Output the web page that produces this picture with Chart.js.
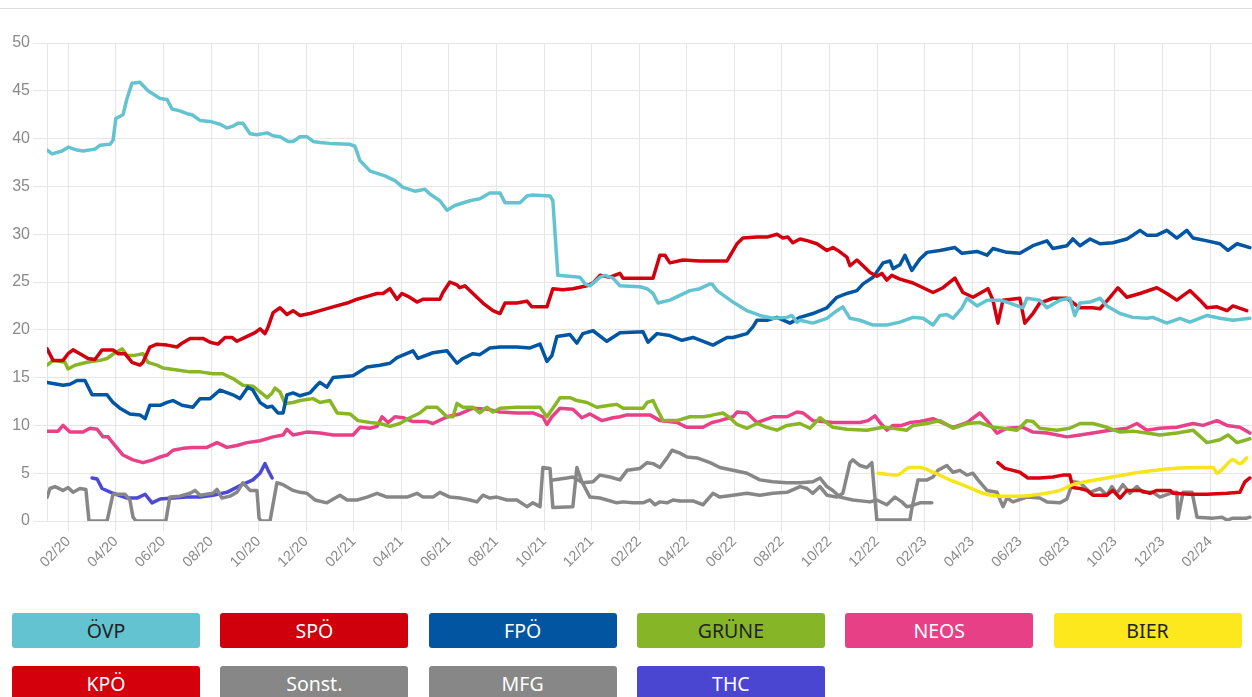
<!DOCTYPE html>
<html><head><meta charset="utf-8">
<script src="https://cdn.jsdelivr.net/npm/chart.js@4.4.1/dist/chart.umd.min.js"></script>
<style>
html,body{margin:0;padding:0;background:#fff;width:1252px;height:697px;overflow:hidden;font-family:"Noto Sans","Open Sans",sans-serif;}
#topline{position:absolute;left:0;top:8px;width:1252px;height:0;border-top:1px solid #dedede;}
#wrap{position:absolute;left:0;top:0;width:1252px;height:600px;}
#legend{position:absolute;left:0;top:0;width:1252px;height:697px;pointer-events:none;}
.item{position:absolute;width:188px;height:35px;border-radius:3px;text-align:center;line-height:35px;font-size:19.5px;}
</style></head><body>
<div id="topline"></div>
<div id="wrap"><canvas id="c" width="1252" height="600"></canvas></div>
<div id="legend"></div>
<script>
// x = months since 2020-01-01 (1 = Feb 2020), y = percent
const tickMonths = [1,3,5,7,9,11,13,15,17,19,21,23,25,27,29,31,33,35,37,39,41,43,45,47,49];
const tickLabels = ["02/20","04/20","06/20","08/20","10/20","12/20","02/21","04/21","06/21","08/21","10/21","12/21","02/22","04/22","06/22","08/22","10/22","12/22","02/23","04/23","06/23","08/23","10/23","12/23","02/24"];

const ovp = [[0.11,38.8],[0.32,38.4],[0.74,38.7],[0.99,39.1],[1.37,38.8],[1.62,38.7],[2.12,38.9],[2.33,39.3],[2.75,39.4],[2.88,39.8],[3.00,42.1],[3.30,42.5],[3.47,44.2],[3.68,45.8],[4.01,45.9],[4.35,45.0],[4.86,44.2],[5.15,44.1],[5.36,43.1],[5.69,42.9],[5.99,42.6],[6.20,42.5],[6.54,41.9],[6.96,41.8],[7.38,41.5],[7.67,41.1],[7.92,41.3],[8.13,41.6],[8.34,41.6],[8.64,40.5],[8.93,40.4],[9.36,40.6],[9.61,40.3],[9.90,40.2],[10.24,39.7],[10.45,39.7],[10.74,40.2],[11.03,40.2],[11.29,39.7],[11.58,39.6],[12.0,39.5],[12.84,39.4],[13.05,39.2],[13.26,37.7],[13.69,36.6],[14.31,36.1],[14.73,35.6],[15.07,34.9],[15.57,34.5],[15.99,34.7],[16.20,34.2],[16.62,33.5],[16.92,32.5],[17.25,33.0],[17.88,33.5],[18.30,33.7],[18.72,34.3],[19.15,34.3],[19.36,33.3],[19.99,33.3],[20.28,34.0],[20.53,34.1],[21.25,34.0],[21.37,33.5],[21.58,25.7],[22.51,25.5],[22.72,24.8],[22.93,24.6],[23.35,25.5],[23.56,25.7],[23.90,25.4],[24.19,24.6],[25.03,24.5],[25.33,24.3],[25.58,23.8],[25.79,22.8],[26.29,23.1],[26.71,23.6],[27.13,24.1],[27.55,24.3],[27.98,24.8],[28.06,24.8],[28.27,24.1],[28.94,22.9],[29.53,22.0],[30.07,21.5],[30.62,21.2],[31.21,21.3],[31.42,21.5],[31.63,20.8],[31.76,21.0],[32.30,20.7],[32.89,21.2],[33.31,22.0],[33.56,22.4],[33.86,21.2],[34.28,21.0],[34.83,20.5],[35.41,20.5],[35.96,20.8],[36.51,21.3],[36.93,21.2],[37.35,20.5],[37.64,21.5],[37.93,21.6],[38.19,21.2],[38.57,22.3],[38.78,23.3],[39.20,22.5],[39.62,23.1],[40.16,23.1],[40.58,22.8],[41.13,22.3],[41.30,23.3],[41.84,23.1],[42.14,22.3],[42.68,23.1],[43.10,23.3],[43.31,21.5],[43.53,22.8],[43.95,22.9],[44.37,23.3],[44.66,22.5],[45.21,21.7],[45.75,21.3],[46.34,21.2],[46.59,21.3],[47.18,20.7],[47.73,21.2],[48.15,20.8],[48.87,21.5],[49.41,21.2],[49.96,21.0],[50.67,21.2]];

const spo = [[0.11,18.0],[0.36,16.8],[0.78,16.8],[0.99,17.5],[1.20,17.9],[1.49,17.5],[1.83,17.0],[2.12,16.9],[2.42,17.9],[2.88,17.9],[3.09,17.5],[3.38,17.5],[3.68,16.6],[4.01,16.3],[4.14,16.6],[4.43,18.2],[4.73,18.5],[5.15,18.4],[5.57,18.2],[5.78,18.6],[6.12,19.1],[6.66,19.1],[6.96,18.7],[7.29,18.5],[7.59,19.2],[7.88,19.2],[8.09,18.8],[8.43,19.2],[8.85,19.7],[9.06,20.1],[9.27,19.6],[9.40,20.3],[9.61,21.8],[9.90,22.3],[10.19,21.6],[10.45,22.0],[10.74,21.5],[11.16,21.7],[11.58,22.0],[12.13,22.4],[12.72,22.8],[13.14,23.2],[13.56,23.5],[13.98,23.8],[14.23,23.8],[14.52,24.3],[14.82,23.2],[15.03,23.8],[15.28,23.5],[15.66,22.9],[15.91,23.2],[16.62,23.2],[16.75,23.9],[17.04,25.0],[17.34,24.7],[17.46,24.4],[17.67,24.6],[18.01,23.8],[18.43,22.8],[18.85,22.0],[19.15,21.7],[19.36,22.8],[19.86,22.8],[20.28,23.0],[20.49,22.4],[21.12,22.4],[21.37,24.3],[21.79,24.2],[22.21,24.3],[22.80,24.6],[23.06,24.9],[23.35,25.7],[23.77,25.5],[24.19,25.9],[24.32,25.4],[25.58,25.4],[25.87,27.8],[26.08,27.8],[26.29,27.0],[26.84,27.3],[27.55,27.2],[28.69,27.2],[29.11,29.0],[29.36,29.6],[29.95,29.7],[30.37,29.7],[30.79,30.0],[31.04,29.6],[31.25,29.7],[31.46,29.1],[31.76,29.5],[32.09,29.3],[32.47,29.0],[32.89,28.3],[33.14,28.6],[33.35,28.3],[33.73,27.6],[33.86,26.7],[34.15,27.3],[34.41,26.7],[34.70,26.0],[34.99,25.6],[35.20,25.9],[35.41,25.2],[35.62,25.7],[35.96,25.3],[36.51,24.9],[36.93,24.4],[37.35,23.9],[37.77,24.4],[38.27,25.4],[38.61,23.9],[39.03,23.4],[39.66,24.3],[39.87,23.1],[40.08,20.7],[40.29,23.1],[41.00,23.3],[41.21,20.7],[41.55,21.7],[41.84,22.8],[42.39,23.3],[42.98,23.3],[43.53,22.3],[44.07,22.3],[44.37,22.2],[44.79,23.4],[45.12,24.4],[45.50,23.4],[46.05,23.8],[46.76,24.4],[47.18,23.8],[47.60,23.1],[48.15,24.1],[48.57,23.1],[48.87,22.3],[49.29,22.4],[49.71,22.0],[49.96,22.5],[50.54,22.0]];

const fpo = [[0.11,14.5],[0.78,14.2],[1.07,14.3],[1.37,14.7],[1.70,14.7],[2.00,13.2],[2.63,13.2],[2.88,12.4],[3.17,11.8],[3.59,11.2],[4.01,11.1],[4.23,10.7],[4.43,12.1],[4.86,12.1],[5.15,12.4],[5.40,12.6],[5.78,12.1],[6.24,11.9],[6.54,12.8],[6.96,12.8],[7.38,13.7],[7.92,13.2],[8.22,12.8],[8.55,14.0],[8.76,13.7],[9.06,12.4],[9.36,11.9],[9.57,12.0],[9.81,11.3],[10.03,11.3],[10.19,13.2],[10.45,13.4],[10.74,13.1],[11.16,13.4],[11.45,14.2],[11.58,14.5],[11.87,14.0],[12.13,15.0],[12.97,15.2],[13.56,16.1],[14.10,16.3],[14.52,16.5],[14.82,17.1],[15.49,17.8],[15.70,17.0],[16.33,17.6],[16.92,17.8],[17.34,16.5],[17.59,17.0],[18.01,17.5],[18.30,17.4],[18.72,18.1],[19.15,18.2],[19.86,18.2],[20.41,18.1],[20.83,18.5],[21.12,16.7],[21.33,17.3],[21.54,19.3],[22.09,19.5],[22.38,18.6],[22.63,19.6],[23.06,19.9],[23.64,18.8],[24.19,19.7],[25.16,19.8],[25.37,18.7],[25.75,19.6],[26.29,19.4],[26.80,18.9],[27.26,19.2],[28.10,18.4],[28.69,19.2],[28.94,19.2],[29.53,19.6],[29.78,20.3],[29.95,21.0],[30.37,21.0],[30.79,21.3],[31.34,20.7],[31.76,21.3],[32.30,21.7],[32.89,22.3],[33.31,23.4],[33.73,23.8],[34.15,24.1],[34.41,24.8],[34.83,25.5],[35.25,27.0],[35.54,27.2],[35.67,26.4],[35.96,26.8],[36.17,27.8],[36.46,26.2],[36.80,27.4],[37.10,28.1],[37.64,28.3],[38.27,28.6],[38.57,28.0],[39.20,28.2],[39.62,27.8],[39.87,28.5],[40.46,28.1],[41.00,28.0],[41.55,28.8],[42.14,29.3],[42.39,28.5],[42.98,28.8],[43.23,29.5],[43.53,28.8],[43.95,29.5],[44.37,29.0],[44.91,29.1],[45.50,29.5],[45.75,29.9],[46.05,30.4],[46.34,29.9],[46.76,29.9],[47.18,30.4],[47.60,29.6],[48.02,30.4],[48.28,29.6],[48.87,29.3],[49.41,29.0],[49.75,28.3],[50.13,29.0],[50.67,28.6]];

const grune = [[0.11,16.3],[0.36,16.8],[0.86,16.6],[0.99,15.9],[1.28,16.3],[1.79,16.6],[2.33,16.8],[2.63,17.0],[2.96,17.6],[3.26,18.0],[3.47,17.3],[3.72,17.3],[4.14,17.5],[4.35,16.6],[4.73,16.3],[4.98,16.0],[5.57,15.8],[6.12,15.6],[6.54,15.6],[7.08,15.4],[7.50,15.4],[7.92,14.9],[8.34,14.2],[8.76,14.1],[9.06,13.5],[9.36,12.9],[9.57,13.4],[9.69,13.9],[9.90,13.5],[10.11,12.3],[10.45,12.4],[10.74,12.6],[11.29,12.8],[11.58,12.4],[12.00,12.6],[12.30,11.3],[12.84,11.2],[13.18,10.5],[13.69,10.3],[14.10,10.2],[14.52,9.9],[14.94,10.2],[15.36,10.8],[15.78,11.3],[16.08,11.9],[16.50,11.9],[16.92,10.9],[17.17,10.9],[17.34,12.3],[17.59,11.9],[18.01,11.9],[18.30,11.3],[18.60,11.9],[18.85,11.4],[19.15,11.8],[19.86,11.9],[20.83,11.9],[21.12,10.9],[21.37,11.8],[21.67,12.9],[22.09,12.9],[22.38,12.6],[22.80,12.4],[23.22,11.9],[23.77,12.1],[24.06,12.2],[24.32,11.8],[25.16,11.8],[25.33,12.4],[25.58,12.6],[25.75,11.7],[26.00,10.5],[26.59,10.5],[27.13,10.9],[27.68,10.9],[27.98,11.0],[28.10,11.1],[28.52,11.3],[28.81,10.8],[29.11,10.1],[29.53,9.7],[29.95,10.2],[30.37,9.8],[30.79,9.5],[31.21,10.0],[31.76,10.2],[32.18,9.7],[32.60,10.8],[33.14,9.8],[33.73,9.6],[34.57,9.5],[35.25,9.8],[35.67,9.7],[36.25,9.5],[36.51,10.0],[37.10,10.2],[37.64,10.5],[38.19,9.7],[38.78,10.2],[39.32,10.3],[39.87,9.8],[40.29,9.7],[40.88,9.5],[41.30,10.5],[41.55,10.4],[41.84,9.7],[42.56,9.5],[43.10,9.7],[43.53,10.2],[44.07,10.2],[44.66,9.8],[45.21,9.3],[45.75,9.4],[46.34,9.2],[46.89,9.0],[47.60,9.2],[48.28,9.5],[48.87,8.2],[49.41,8.5],[49.75,9.0],[50.13,8.2],[50.67,8.6]];

const neos = [[0.11,9.4],[0.57,9.4],[0.78,10.0],[1.07,9.3],[1.62,9.3],[1.91,9.7],[2.21,9.6],[2.46,8.8],[2.67,8.8],[2.96,7.9],[3.30,6.9],[3.72,6.4],[4.14,6.1],[4.56,6.4],[4.86,6.7],[5.15,6.9],[5.40,7.4],[5.82,7.6],[6.24,7.7],[6.83,7.7],[7.25,8.2],[7.67,7.7],[8.09,7.9],[8.51,8.2],[9.06,8.4],[9.61,8.8],[10.03,9.0],[10.19,9.6],[10.45,9.0],[11.03,9.3],[11.58,9.2],[12.13,9.0],[12.97,9.0],[13.26,9.8],[13.69,9.7],[13.98,9.9],[14.19,10.9],[14.44,10.3],[14.73,10.9],[15.07,10.8],[15.49,10.4],[16.08,10.4],[16.33,10.2],[16.92,10.9],[17.46,11.2],[18.01,11.8],[18.60,11.7],[19.15,11.4],[19.86,11.3],[20.53,11.3],[20.95,10.9],[21.12,10.1],[21.33,10.9],[21.67,11.8],[22.21,11.7],[22.59,10.8],[22.93,11.2],[23.43,10.5],[23.90,10.8],[24.19,10.9],[24.49,11.1],[25.45,11.1],[25.87,10.5],[26.59,10.3],[27.01,9.8],[27.68,9.8],[28.06,10.3],[28.39,10.5],[28.94,10.9],[29.11,11.4],[29.53,11.3],[29.95,10.3],[30.62,10.9],[31.21,10.9],[31.63,11.4],[31.88,11.3],[32.30,10.5],[33.14,10.3],[34.28,10.3],[34.62,10.5],[34.91,11.0],[35.12,10.3],[35.41,9.5],[35.67,10.0],[36.04,10.0],[36.38,10.3],[36.80,10.4],[37.35,10.7],[38.19,9.8],[38.78,10.3],[39.32,11.3],[39.62,10.5],[40.04,9.2],[40.46,9.7],[41.13,9.8],[41.55,9.3],[42.14,9.2],[42.98,8.8],[43.53,9.0],[44.07,9.2],[44.79,9.5],[45.50,9.7],[45.92,10.2],[46.34,9.5],[46.89,9.7],[47.60,9.8],[48.28,10.2],[48.70,10.0],[49.29,10.5],[49.71,10.0],[50.25,9.8],[50.67,9.2]];

const bier = [[35.04,5.0],[35.83,4.8],[36.38,5.6],[36.80,5.6],[37.35,5.1],[38.06,4.3],[38.78,3.6],[39.45,2.9],[40.16,2.6],[41.00,2.6],[41.84,2.8],[42.68,3.2],[43.23,3.8],[44.66,4.5],[46.05,5.1],[47.44,5.5],[48.87,5.6],[49.12,5.6],[49.29,5.0],[49.54,5.5],[49.96,6.4],[50.25,6.0],[50.54,6.6]];

const kpo = [[40.08,6.1],[40.37,5.5],[40.71,5.3],[41.00,5.1],[41.34,4.5],[41.84,4.5],[42.39,4.6],[42.81,4.8],[43.10,4.8],[43.23,3.5],[43.53,3.4],[43.82,3.2],[44.07,2.7],[44.66,2.7],[44.91,3.2],[45.21,2.4],[45.50,3.2],[46.05,3.2],[46.47,2.9],[46.76,3.2],[47.31,3.2],[47.44,2.9],[48.15,2.8],[48.87,2.8],[49.71,2.9],[50.25,3.0],[50.46,4.1],[50.67,4.5]];

const sonst = [[0.11,2.5],[0.23,3.4],[0.44,3.6],[0.78,3.2],[0.99,3.5],[1.20,3.0],[1.49,3.4],[1.74,3.3],[1.87,0],[2.63,0],[2.88,2.8],[3.38,2.8],[3.59,2.2],[3.72,0.4],[3.85,0],[5.10,0],[5.27,2.5],[5.69,2.6],[6.12,2.9],[6.33,3.2],[6.54,2.7],[7.08,2.9],[7.25,3.3],[7.46,2.4],[7.80,2.6],[8.09,3.0],[8.34,4.0],[8.64,3.2],[8.93,3.2],[9.02,0.3],[9.10,0],[9.48,0],[9.77,4.0],[10.03,3.8],[10.45,3.2],[10.74,3.0],[11.03,2.9],[11.37,2.2],[11.87,1.9],[12.42,2.7],[12.72,2.2],[13.14,2.2],[13.56,2.5],[13.98,2.9],[14.40,2.5],[15.24,2.5],[15.66,2.9],[15.91,2.5],[16.33,2.5],[16.62,3.0],[17.04,2.5],[17.46,2.4],[17.88,2.2],[18.18,2.0],[18.43,2.7],[18.72,2.4],[19.02,2.5],[19.44,2.2],[19.86,2.2],[20.28,1.5],[20.53,1.9],[20.83,1.5],[20.95,5.6],[21.25,5.5],[21.37,1.4],[22.21,1.5],[22.38,5.6],[22.59,4.1],[22.93,2.5],[23.35,2.4],[24.06,1.9],[24.32,2.0],[24.74,1.9],[25.16,1.9],[25.45,2.2],[25.66,1.7],[25.87,2.0],[26.17,1.9],[26.42,2.2],[26.71,2.1],[27.26,2.1],[27.68,1.7],[28.10,2.9],[28.39,2.5],[28.94,2.7],[29.53,2.9],[30.07,2.7],[30.62,2.9],[31.21,3.0],[31.76,3.6],[32.05,3.4],[32.30,2.9],[32.60,3.6],[32.89,2.7],[33.31,2.5],[33.56,2.9],[33.86,6.1],[33.98,6.4],[34.28,5.8],[34.57,5.6],[34.78,6.1],[34.99,0.1],[36.38,0.1],[36.46,1.3],[36.72,4.3],[37.10,4.3],[37.35,4.6],[37.56,5.3],[37.93,5.8],[38.19,5.1],[38.48,5.3],[38.78,4.8],[39.03,5.0],[39.24,4.3],[39.62,3.2],[40.04,3.0],[40.29,1.5],[40.46,2.4],[40.71,2.0],[41.30,2.5],[41.84,2.4],[42.14,2.0],[42.68,1.9],[42.98,2.3],[43.23,4.1],[43.53,4.0],[43.95,3.0],[44.37,3.4],[44.66,2.7],[44.87,3.6],[45.08,2.9],[45.33,3.8],[45.63,2.9],[45.92,3.6],[46.17,3.0],[46.59,3.0],[46.89,2.5],[47.44,3.0],[47.60,3.0],[47.65,0.3],[47.86,3.0],[48.24,3.0],[48.45,0.4],[49.12,0.3],[49.50,0.4],[49.71,0.1],[49.96,0.3],[50.54,0.3],[50.67,0.4]];

const mfg = [[21.37,4.3],[21.96,4.5],[22.21,4.6],[22.63,4.0],[23.06,4.1],[23.35,4.8],[23.77,4.6],[24.19,4.3],[24.49,5.3],[25.03,5.5],[25.33,6.1],[25.58,6.0],[25.87,5.6],[26.17,6.6],[26.38,7.4],[26.71,7.1],[27.01,6.7],[27.43,6.6],[27.98,6.1],[28.39,5.6],[28.94,5.3],[29.53,5.0],[30.07,4.3],[30.62,4.1],[31.21,4.0],[31.76,4.0],[32.30,4.1],[32.60,4.5],[32.89,3.6],[33.14,3.2],[33.44,2.5],[33.98,2.2],[34.70,2.0],[34.99,2.2],[35.41,1.7],[35.75,2.5],[36.04,2.0],[36.25,1.5],[36.46,1.6],[36.80,1.9],[37.30,1.9]];

const thc = [[2.00,4.5],[2.21,4.4],[2.42,3.4],[2.88,2.9],[3.47,2.4],[3.89,2.4],[4.23,2.8],[4.52,1.9],[4.86,2.3],[5.40,2.4],[5.99,2.5],[6.54,2.5],[7.08,2.7],[7.67,3.0],[8.22,3.7],[8.76,4.3],[9.06,5.0],[9.27,6.0],[9.40,5.3],[9.57,4.5]];

const parties = ["ÖVP","SPÖ","FPÖ","GRÜNE","NEOS","BIER","KPÖ","Sonst.","MFG","THC"];
const series = [ovp, spo, fpo, grune, neos, bier, kpo, sonst, mfg, thc];
const lineColors = ["#63c3d0","#d2000f","#0056a2","#88b626","#e84188","#f7e51a","#d8000d","#878787","#878787","#4e48d6"];
const boxColors  = ["#63c3d0","#cf000c","#0256a1","#86b527","#e84087","#fce81c","#d4000c","#878787","#878787","#4b46d2"];
const textColors = ["#222","#fff","#fff","#222","#fff","#222","#fff","#fff","#fff","#fff"];

const datasets = parties.map((p, i) => ({
  label: p,
  data: series[i].map(d => ({x: d[0], y: d[1]})),
  borderColor: lineColors[i],
  backgroundColor: lineColors[i],
  borderWidth: 3.5,
  pointRadius: 0,
  fill: false,
  tension: 0,
  cubicInterpolationMode: p === "BIER" ? "monotone" : "default",
  borderJoinStyle: "round",
  borderCapStyle: "round"
}));

const gridColor = "#e6e6e6";
new Chart(document.getElementById("c"), {
  type: "line",
  data: { datasets },
  options: {
    responsive: false,
    animation: false,
    layout: { padding: { top: 43, right: 0, left: 0, bottom: 0 } },
    plugins: { legend: { display: false }, tooltip: { enabled: false } },
    scales: {
      x: {
        type: "linear",
        min: 0.105, max: 50.76,
        afterBuildTicks: s => { s.ticks = tickMonths.map(v => ({ value: v })); },
        afterFit: s => { s.height = 79; },
        ticks: {
          autoSkip: false, minRotation: 45, maxRotation: 45, padding: 2,
          color: "#8a8a8a", font: { size: 14.5, family: "'Liberation Sans', Arial, sans-serif" },
          callback: v => { const k = tickMonths.indexOf(v); return k >= 0 ? tickLabels[k] : ""; }
        },
        grid: { color: gridColor, tickLength: 10 },
        border: { color: gridColor }
      },
      y: {
        min: 0, max: 50,
        afterFit: s => { s.width = 47; },
        ticks: { stepSize: 5, padding: 3, color: "#8a8a8a", font: { size: 16, family: "'Liberation Sans', Arial, sans-serif" } },
        grid: { color: gridColor, tickLength: 14 },
        border: { color: gridColor }
      }
    }
  }
});

const leg = document.getElementById("legend");
parties.forEach((p, i) => {
  const d = document.createElement("div");
  d.className = "item";
  const col = i % 6, row = Math.floor(i / 6);
  d.style.left = (12 + col * 208.3) + "px";
  d.style.top = (613 + row * 53) + "px";
  d.style.background = boxColors[i];
  d.style.color = textColors[i];
  d.textContent = p;
  leg.appendChild(d);
});
</script>
</body></html>
